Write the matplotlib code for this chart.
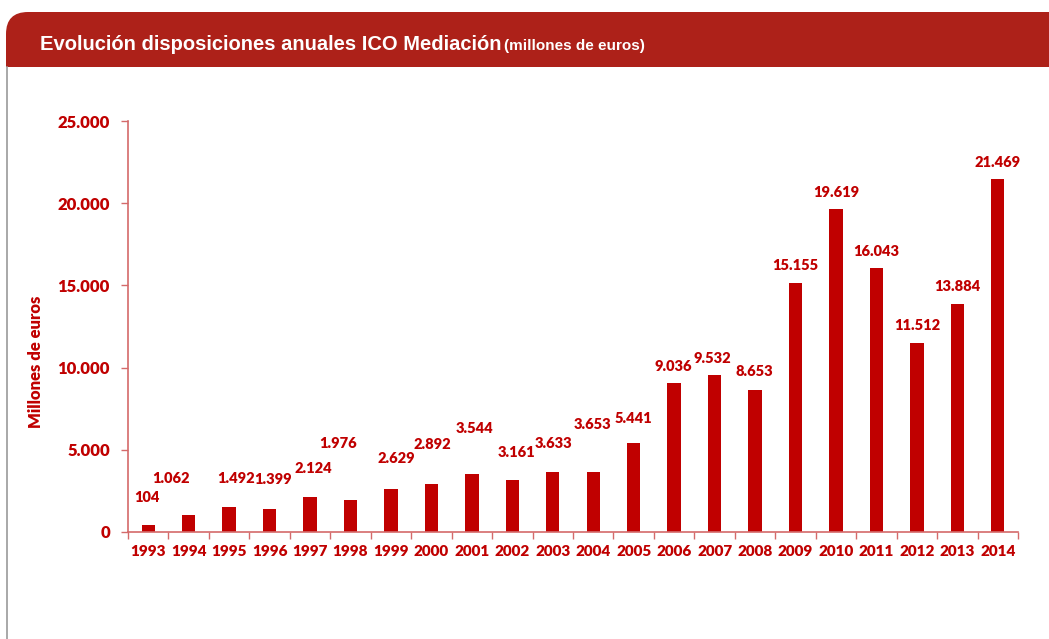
import matplotlib
matplotlib.use("Agg")
import matplotlib.pyplot as plt
from matplotlib.patches import FancyBboxPatch, Rectangle
from matplotlib.lines import Line2D

# ---------------------------------------------------------------------------
# Data (millones de euros)
# ---------------------------------------------------------------------------
years = [str(y) for y in range(1993, 2015)]
values = [104, 1062, 1492, 1399, 2124, 1976, 2629, 2892, 3544, 3161, 3633,
          3653, 5441, 9036, 9532, 8653, 15155, 19619, 16043, 11512, 13884, 21469]
# the 1993 bar is drawn taller than its label in the original
bar_heights = [400] + values[1:]
labels = [f"{v:,}".replace(",", ".") for v in values]

# label nudges in pixels (dx, dy above bar top), as placed in the original
label_dx = [-1, -18, 7, 3, 3, -12, 5, 1, 3, 4, 1, -1, 0, -1, -2, -1, 0, 0, 0, 0, 0, 0]
label_dy = [28, 36, 29, 30, 29, 56, 30, 40, 45, 28, 29, 47, 24, 17, 17, 18, 17, 17, 17, 17, 17, 17]

RED = '#C00000'
BAND = '#AD2119'
AXIS = '#D46A6A'
FONT = 'Lato'
WEIGHT = 'heavy'

W, H = 1049, 639
fig = plt.figure(figsize=(W / 100, H / 100), dpi=100)

# ---------------------------------------------------------------------------
# Header band with rounded top-left corner
# ---------------------------------------------------------------------------
px = 1 / 100  # inches per pixel
band = FancyBboxPatch((6 * px, (H - 67) * px), (W + 40) * px, 55 * px,
                      boxstyle="round,pad=0,rounding_size=0.22",
                      transform=fig.dpi_scale_trans, facecolor=BAND,
                      edgecolor='none', zorder=1)
fig.patches.append(band)
fig.patches.append(Rectangle((6 * px, (H - 67) * px), 40 * px, 30 * px,
                             transform=fig.dpi_scale_trans, facecolor=BAND,
                             edgecolor='none', zorder=1))
fig.lines.append(Line2D([7 * px, 7 * px], [0, (H - 67) * px],
                        transform=fig.dpi_scale_trans, color='#9A9A9A', lw=1.2))

t = fig.text(40 / W, 1 - 50 / H, "Evolución disposiciones anuales ICO Mediación",
             color='white', fontsize=14.5, fontweight='bold',
             family='Liberation Sans', va='baseline', ha='left', zorder=3)
fig.canvas.draw()
bb = t.get_window_extent()
fig.text((bb.x1 + 3) / W, 1 - 50 / H, "(millones de euros)", color='white',
         fontsize=11, fontweight='bold', family='Liberation Sans',
         va='baseline', ha='left', zorder=3)

# ---------------------------------------------------------------------------
# Bar chart
# ---------------------------------------------------------------------------
ax = fig.add_axes([128 / W, (H - 532) / H, (1018 - 128) / W, (532 - 121) / H])
x = list(range(len(years)))
ax.bar(x, bar_heights, width=0.33, color=RED, zorder=2)

for i, lab in enumerate(labels):
    ax.annotate(lab, xy=(x[i], bar_heights[i]), xytext=(label_dx[i] * 0.72, label_dy[i] * 0.72),
                textcoords='offset points', ha='center', va='center',
                color=RED, fontsize=10.5, fontweight=WEIGHT, family=FONT)

ax.set_xlim(-0.5, len(years) - 0.5)
ax.set_ylim(0, 25000)
ax.set_yticks(range(0, 25001, 5000))
ax.set_yticklabels([f"{v:,}".replace(",", ".") for v in range(0, 25001, 5000)])
ax.set_xticks(x)
ax.set_xticklabels(years)
ax.set_xticks([i - 0.5 for i in range(len(years) + 1)], minor=True)
ax.tick_params(axis='x', which='major', length=0, pad=9)
ax.tick_params(axis='x', which='minor', length=5, color=AXIS, width=1)
ax.tick_params(axis='y', length=5, color=AXIS, width=1, pad=8)
for lab in ax.get_xticklabels():
    lab.set(color=RED, fontsize=11, fontweight=WEIGHT, family=FONT)
for lab in ax.get_yticklabels():
    lab.set(color=RED, fontsize=12, fontweight=WEIGHT, family=FONT)

for side in ['top', 'right']:
    ax.spines[side].set_visible(False)
for side in ['left', 'bottom']:
    ax.spines[side].set_color(AXIS)
    ax.spines[side].set_linewidth(1.2)

ax.set_ylabel("Millones de euros", color=RED, fontsize=12, fontweight=WEIGHT,
              family=FONT)
ax.yaxis.set_label_coords(-84 / 890, (532 - 362) / 411)

fig.savefig("out.png", dpi=100)
